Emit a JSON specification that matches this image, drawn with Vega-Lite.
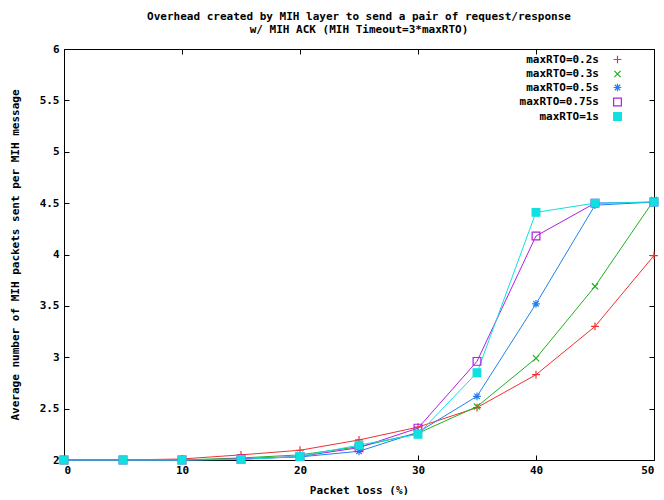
{
  "$schema": "https://vega.github.io/schema/vega-lite/v6.json",
  "width": 590,
  "height": 411,
  "padding": {"left": 9, "top": 11, "right": 5, "bottom": 0},
  "background": "white",
  "title": {
    "text": ["Overhead created by MIH layer to send a pair of request/response", "w/ MIH ACK (MIH Timeout=3*maxRTO)"],
    "font": "DejaVu Sans Mono",
    "fontSize": 11,
    "fontWeight": "bold",
    "color": "black",
    "lineHeight": 13,
    "offset": 8
  },
  "config": {
    "view": {"stroke": "black", "strokeWidth": 1},
    "axis": {
      "labelFont": "DejaVu Sans Mono",
      "labelFontSize": 11,
      "labelFontWeight": "bold",
      "labelColor": "black",
      "titleFont": "DejaVu Sans Mono",
      "titleFontSize": 11,
      "titleFontWeight": "bold",
      "titleColor": "black",
      "grid": false,
      "domain": false,
      "tickColor": "black",
      "tickSize": -5
    },
    "legend": {
      "labelFont": "DejaVu Sans Mono",
      "labelFontSize": 11,
      "labelFontWeight": "bold",
      "labelColor": "black"
    }
  },
  "data": {
    "values": [
      {"loss": 0, "series": "maxRTO=0.2s", "value": 2.0},
      {"loss": 5, "series": "maxRTO=0.2s", "value": 2.0},
      {"loss": 10, "series": "maxRTO=0.2s", "value": 2.01},
      {"loss": 15, "series": "maxRTO=0.2s", "value": 2.05},
      {"loss": 20, "series": "maxRTO=0.2s", "value": 2.095},
      {"loss": 25, "series": "maxRTO=0.2s", "value": 2.195},
      {"loss": 30, "series": "maxRTO=0.2s", "value": 2.32},
      {"loss": 35, "series": "maxRTO=0.2s", "value": 2.51},
      {"loss": 40, "series": "maxRTO=0.2s", "value": 2.83},
      {"loss": 45, "series": "maxRTO=0.2s", "value": 3.3},
      {"loss": 50, "series": "maxRTO=0.2s", "value": 3.99},
      {"loss": 0, "series": "maxRTO=0.3s", "value": 2.0},
      {"loss": 5, "series": "maxRTO=0.3s", "value": 2.0},
      {"loss": 10, "series": "maxRTO=0.3s", "value": 2.0},
      {"loss": 15, "series": "maxRTO=0.3s", "value": 2.02},
      {"loss": 20, "series": "maxRTO=0.3s", "value": 2.05},
      {"loss": 25, "series": "maxRTO=0.3s", "value": 2.13},
      {"loss": 30, "series": "maxRTO=0.3s", "value": 2.26},
      {"loss": 35, "series": "maxRTO=0.3s", "value": 2.52},
      {"loss": 40, "series": "maxRTO=0.3s", "value": 2.99},
      {"loss": 45, "series": "maxRTO=0.3s", "value": 3.69},
      {"loss": 50, "series": "maxRTO=0.3s", "value": 4.53},
      {"loss": 0, "series": "maxRTO=0.5s", "value": 2.0},
      {"loss": 5, "series": "maxRTO=0.5s", "value": 2.0},
      {"loss": 10, "series": "maxRTO=0.5s", "value": 2.0},
      {"loss": 15, "series": "maxRTO=0.5s", "value": 2.01},
      {"loss": 20, "series": "maxRTO=0.5s", "value": 2.03},
      {"loss": 25, "series": "maxRTO=0.5s", "value": 2.085},
      {"loss": 30, "series": "maxRTO=0.5s", "value": 2.27},
      {"loss": 35, "series": "maxRTO=0.5s", "value": 2.62},
      {"loss": 40, "series": "maxRTO=0.5s", "value": 3.52},
      {"loss": 45, "series": "maxRTO=0.5s", "value": 4.48},
      {"loss": 50, "series": "maxRTO=0.5s", "value": 4.51},
      {"loss": 0, "series": "maxRTO=0.75s", "value": 2.0},
      {"loss": 5, "series": "maxRTO=0.75s", "value": 2.0},
      {"loss": 10, "series": "maxRTO=0.75s", "value": 2.0},
      {"loss": 15, "series": "maxRTO=0.75s", "value": 2.01},
      {"loss": 20, "series": "maxRTO=0.75s", "value": 2.035},
      {"loss": 25, "series": "maxRTO=0.75s", "value": 2.12},
      {"loss": 30, "series": "maxRTO=0.75s", "value": 2.31},
      {"loss": 35, "series": "maxRTO=0.75s", "value": 2.96},
      {"loss": 40, "series": "maxRTO=0.75s", "value": 4.18},
      {"loss": 45, "series": "maxRTO=0.75s", "value": 4.5},
      {"loss": 50, "series": "maxRTO=0.75s", "value": 4.51},
      {"loss": 0, "series": "maxRTO=1s", "value": 2.0},
      {"loss": 5, "series": "maxRTO=1s", "value": 2.0},
      {"loss": 10, "series": "maxRTO=1s", "value": 2.0},
      {"loss": 15, "series": "maxRTO=1s", "value": 2.005},
      {"loss": 20, "series": "maxRTO=1s", "value": 2.035},
      {"loss": 25, "series": "maxRTO=1s", "value": 2.145},
      {"loss": 30, "series": "maxRTO=1s", "value": 2.25},
      {"loss": 35, "series": "maxRTO=1s", "value": 2.85},
      {"loss": 40, "series": "maxRTO=1s", "value": 4.41},
      {"loss": 45, "series": "maxRTO=1s", "value": 4.5},
      {"loss": 50, "series": "maxRTO=1s", "value": 4.51}
    ]
  },
  "encoding": {
    "color": {
      "field": "series",
      "type": "nominal",
      "scale": {
        "domain": ["maxRTO=0.2s", "maxRTO=0.3s", "maxRTO=0.5s", "maxRTO=0.75s", "maxRTO=1s"],
        "range": ["#f03030", "#20b020", "#2080f0", "#b020e0", "#10e0e0"]
      },
      "legend": {
        "title": null,
        "orient": "none",
        "legendX": 548,
        "legendY": 5,
        "symbolStrokeWidth": 1.2,
        "symbolSize": 60,
        "rowPadding": 1.5,
        "labelAlign": "right",
        "labelOffset": -24
      }
    }
  },
  "layer": [
    {
      "mark": {"type": "line", "strokeWidth": 1, "clip": false},
      "encoding": {
        "x": {
          "field": "loss",
          "type": "quantitative",
          "scale": {"domain": [0, 50], "nice": false},
          "axis": {"title": "Packet loss (%)", "values": [0, 10, 20, 30, 40, 50], "labelPadding": 9, "titlePadding": 9}
        },
        "y": {
          "field": "value",
          "type": "quantitative",
          "scale": {"domain": [2, 6], "nice": false, "zero": false},
          "axis": {"title": "Average number of MIH packets sent per MIH message", "values": [2, 2.5, 3, 3.5, 4, 4.5, 5, 5.5, 6], "format": "~g", "labelPadding": 10, "titlePadding": 19}
        }
      }
    },
    {
      "mark": {"type": "point", "filled": false, "size": 60, "strokeWidth": 1.2, "opacity": 1, "clip": false},
      "encoding": {
        "x": {
          "field": "loss",
          "type": "quantitative",
          "axis": {"orient": "top", "title": null, "labels": false, "values": [0, 10, 20, 30, 40, 50]}
        },
        "y": {
          "field": "value",
          "type": "quantitative",
          "axis": {"orient": "right", "title": null, "labels": false, "values": [2, 2.5, 3, 3.5, 4, 4.5, 5, 5.5, 6]}
        },
        "shape": {
          "field": "series",
          "type": "nominal",
          "scale": {
            "domain": ["maxRTO=0.2s", "maxRTO=0.3s", "maxRTO=0.5s", "maxRTO=0.75s", "maxRTO=1s"],
            "range": [
              "M-1,0L1,0M0,-1L0,1",
              "M-0.8,-0.8L0.8,0.8M-0.8,0.8L0.8,-0.8",
              "M-1,0L1,0M0,-1L0,1M-0.7,-0.7L0.7,0.7M-0.7,0.7L0.7,-0.7",
              "square",
              "square"
            ]
          },
          "legend": {"title": null}
        },
        "fill": {
          "field": "series",
          "type": "nominal",
          "scale": {
            "domain": ["maxRTO=0.2s", "maxRTO=0.3s", "maxRTO=0.5s", "maxRTO=0.75s", "maxRTO=1s"],
            "range": ["transparent", "transparent", "transparent", "transparent", "#10e0e0"]
          },
          "legend": {"title": null}
        }
      }
    }
  ],
  "resolve": {"axis": {"x": "independent", "y": "independent"}}
}
